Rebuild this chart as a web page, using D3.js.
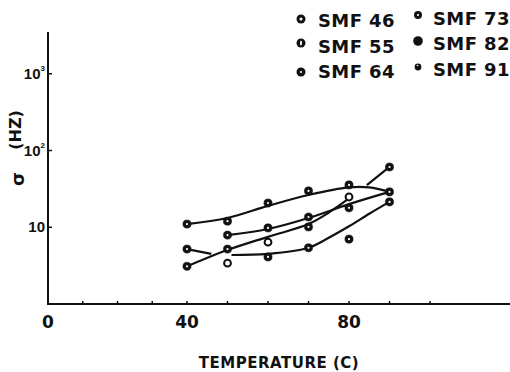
<!DOCTYPE html>
<html>
<head>
<meta charset="utf-8">
<script src="https://cdn.jsdelivr.net/npm/d3@7"></script>
<style>
  html, body { margin: 0; padding: 0; background: #fff; }
  svg { display: block; }
  text { font-family: "DejaVu Sans", "Liberation Sans", sans-serif; font-weight: bold; fill: #111; }
</style>
</head>
<body>
<svg id="chart" width="510" height="372"></svg>
<script>
// ---- data ---------------------------------------------------------------
const legendNames = ["SMF 46", "SMF 55", "SMF 64", "SMF 73", "SMF 82", "SMF 91"];
const legendMarks = ["ringDot", "slit", "dot", "smallDot", "solid", "small"];

const xTickLabels = [0, 40, 80];
const xMinorTicks = [0, 10, 20, 30, 40, 50, 60, 70, 80, 90, 100];
const yTicks = [10, 100, 1000];
const yTickExp = ["", "2", "3"];

// measured points (temperature °C, frequency Hz)
const ptsA = [[40, 11], [50, 12], [60, 20.7], [70, 29.7], [80, 35.6]];
const ptsB = [[50, 7.9], [60, 9.8], [70, 13.6], [80, 17.9], [90, 28.9]];
const ptsC = [[40, 3.1], [50, 5.2], [60, 6.4], [70, 10.1], [80, 24.8], [90, 61]];
const ptsD = [[40, 5.2], [60, 4.1], [70, 5.4], [80, 7.0], [90, 21.4]];
const ptsExtra = [[50, 3.4]];
const hollowPts = [[50, 3.4], [60, 6.4], [80, 24.8]];

// hand-fitted trend curves
const fitA = [[40, 11], [50, 13.2], [60, 19], [70, 26.3], [80, 33], [85, 33], [90, 28.9]];
const fitB = [[50, 7.9], [60, 9.5], [70, 13.2], [80, 20], [90, 28.9]];
const fitC1 = [[40, 3.1], [50, 5.05], [60, 7.5], [70, 11], [75, 15.5], [80.5, 24.8]];
const fitC2 = [[84.4, 35.5], [90, 61]];
const fitD1 = [[40, 5.2], [46, 4.5]];
const fitD2 = [[51, 4.35], [60, 4.5], [70, 5.4], [75, 7.3], [80, 10.3], [85, 15], [90, 21.4]];

// ---- scales ---------------------------------------------------------------
const svg = d3.select("#chart");
const x = d3.scaleLinear().domain([0, 40, 100]).range([48, 187, 430]);
const y = d3.scaleLog().domain([1, 3500]).range([304, 32]);

// ---- axes -----------------------------------------------------------------
const axisG = svg.append("g").attr("stroke", "#111").attr("stroke-width", 2).attr("fill", "none");
axisG.append("line").attr("x1", x(0)).attr("x2", x(0)).attr("y1", y(3500)).attr("y2", y(1));
axisG.append("line").attr("x1", x(0) - 1).attr("x2", 510).attr("y1", y(1)).attr("y2", y(1));

// small tick marks
svg.append("g").selectAll("line").data(xMinorTicks.slice(1)).join("line")
  .attr("x1", d => x(d)).attr("x2", d => x(d))
  .attr("y1", y(1)).attr("y2", y(1) - 3)
  .attr("stroke", "#111").attr("stroke-width", 1.5);
svg.append("g").selectAll("line").data(yTicks).join("line")
  .attr("x1", x(0)).attr("x2", x(0) + 4)
  .attr("y1", d => y(d)).attr("y2", d => y(d))
  .attr("stroke", "#111").attr("stroke-width", 1.5);

// tick labels
svg.append("g").selectAll("text").data(xTickLabels).join("text")
  .attr("x", d => x(d)).attr("y", 328)
  .attr("text-anchor", "middle").attr("font-size", 17)
  .text(d => d);

const yl = svg.append("g").selectAll("text").data(yTicks).join("text")
  .attr("x", 45).attr("y", d => y(d) + 5)
  .attr("text-anchor", "end").attr("font-size", 15)
  .style("font-family", "'Liberation Sans', Arial, sans-serif");
yl.append("tspan").text("10");
yl.append("tspan").attr("dy", -8).attr("font-size", 8)
  .text((d, i) => yTickExp[i]);

// axis titles
svg.append("text").attr("x", 279).attr("y", 368)
  .attr("text-anchor", "middle").attr("font-size", 15).attr("letter-spacing", 0.5)
  .text("TEMPERATURE (C)");
svg.append("text").attr("transform", "translate(21,130) rotate(-90)")
  .attr("text-anchor", "middle").attr("font-size", 16)
  .text("(HZ)");
svg.append("text").attr("transform", "translate(24,179) rotate(-90)")
  .attr("text-anchor", "middle").attr("font-size", 18)
  .text("σ");

// ---- trend curves -----------------------------------------------------------
const line = d3.line().x(d => x(d[0])).y(d => y(d[1])).curve(d3.curveCatmullRom.alpha(0.5));
svg.append("g").selectAll("path")
  .data([fitA, fitB, fitC1, fitC2, fitD1, fitD2]).join("path")
  .attr("d", line)
  .attr("fill", "none").attr("stroke", "#111").attr("stroke-width", 2.2);

// ---- data points ------------------------------------------------------------
const isHollow = p => hollowPts.some(h => h[0] === p[0] && h[1] === p[1]);
const allPts = [...ptsA, ...ptsB, ...ptsC, ...ptsD, ...ptsExtra];
const pg = svg.append("g");
pg.selectAll("circle.pt").data(allPts).join("circle")
  .attr("class", "pt")
  .attr("cx", d => x(d[0])).attr("cy", d => y(d[1]))
  .attr("r", d => isHollow(d) ? 3.4 : 4.1)
  .attr("fill", d => isHollow(d) ? "#fff" : "#111")
  .attr("stroke", "#111").attr("stroke-width", d => isHollow(d) ? 2 : 0.5);
pg.selectAll("circle.ctr").data(allPts.filter(d => !isHollow(d))).join("circle")
  .attr("class", "ctr")
  .attr("cx", d => x(d[0])).attr("cy", d => y(d[1]))
  .attr("r", 1.1).attr("fill", "#fff");

// ---- legend -------------------------------------------------------------------
const legX = [301, 418];
const legMarkY = [[19, 43, 72], [15, 41, 67]];
const legTextX = [318, 433];
const legTextY = [[27, 53, 78], [25, 50, 76]];

const leg = svg.append("g").selectAll("g").data(legendNames).join("g");
leg.each(function (name, i) {
  const col = Math.floor(i / 3), row = i % 3;
  const g = d3.select(this);
  const cx = legX[col], cy = legMarkY[col][row];
  const kind = legendMarks[i];
  const r = kind === "solid" ? 4.8 : kind === "small" ? 3.4 : kind === "smallDot" ? 4 : 4.5;
  g.append("circle").attr("cx", cx).attr("cy", cy).attr("r", r).attr("fill", "#111");
  if (kind === "ringDot" || kind === "dot" || kind === "smallDot") {
    g.append("circle").attr("cx", cx).attr("cy", cy).attr("r", kind === "ringDot" ? 1.5 : 1.1).attr("fill", "#fff");
  }
  if (kind === "slit") {
    g.append("ellipse").attr("cx", cx).attr("cy", cy).attr("rx", 1).attr("ry", 2.6).attr("fill", "#fff");
  }
  if (kind === "small") {
    g.append("circle").attr("cx", cx - 0.5).attr("cy", cy - 1.5).attr("r", 0.8).attr("fill", "#fff");
  }
  g.append("text").attr("x", legTextX[col]).attr("y", legTextY[col][row])
    .attr("font-size", 18).attr("letter-spacing", 0.4)
    .text(name);
});
</script>
</body>
</html>
